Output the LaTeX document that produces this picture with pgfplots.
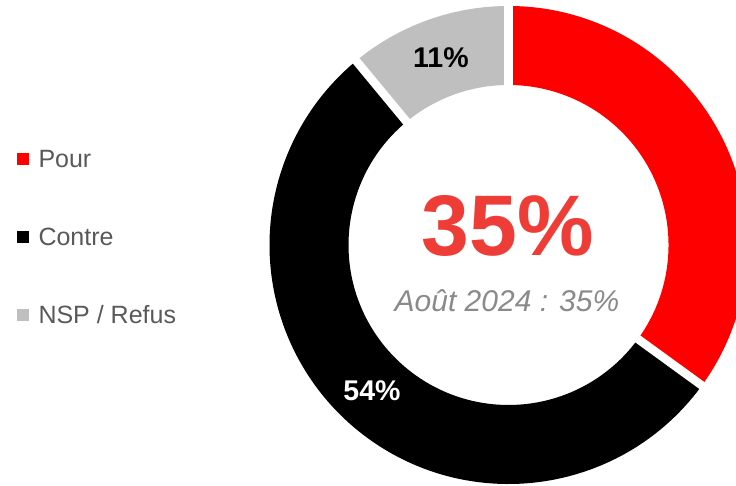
\documentclass[border=0pt]{standalone}
\usepackage{pgfplots}
\pgfplotsset{compat=1.18}
\usepackage{pgfplotstable}
\usepackage{fontspec}
\setmainfont{Liberation Sans}

\definecolor{cPour}{HTML}{FF0000}
\definecolor{cContre}{HTML}{000000}
\definecolor{cNSP}{HTML}{BFBFBF}
\definecolor{bigred}{HTML}{EE3D37}
\definecolor{subgrey}{HTML}{8A8A8A}
\definecolor{legtext}{HTML}{595959}

% share in %, slice colour, label colour, label shown on the ring
\pgfplotstableread[col sep=comma]{
label,value,fill,labc,show
Pour,35,cPour,white,0
Contre,54,cContre,white,1
NSP / Refus,11,cNSP,black,1
}\shares

\begin{document}
\begin{tikzpicture}[x=1pt,y=1pt]
\useasboundingbox (0,0) rectangle (736,485);
\begin{axis}[x=1pt, y=1pt, xmin=0, xmax=736, ymin=0, ymax=485,
  hide axis, at={(0,0)}, anchor=south west]
\def\cx{508.5}\def\cy{240}\def\Ro{239}\def\Ri{160}
% ring slices, clockwise from 12 o'clock
\def\cum{0}
\pgfplotsforeachungrouped \i in {0,1,2}{%
  \pgfplotstablegetelem{\i}{value}\of\shares\let\val\pgfplotsretval
  \pgfplotstablegetelem{\i}{fill}\of\shares\let\fc\pgfplotsretval
  \pgfmathsetmacro\angA{90-3.6*\cum}
  \pgfmathsetmacro\angB{90-3.6*(\cum+\val)}
  \pgfmathsetmacro\sx{\cx+\Ro*cos(\angA)}
  \pgfmathsetmacro\sy{\cy+\Ro*sin(\angA)}
  \pgfmathsetmacro\dr{\Ri-\Ro}
  \edef\cmd{\noexpand\fill[\fc] (axis cs:\sx,\sy) arc[start angle=\angA, end angle=\angB, radius=\Ro pt]
    -- ++(\angB:\dr pt) arc[start angle=\angB, end angle=\angA, radius=\Ri pt] -- cycle;}
  \cmd
  \pgfmathsetmacro\cum{\cum+\val}
}
% white gaps and labels
\def\cum{0}
\pgfplotsforeachungrouped \i in {0,1,2}{%
  \pgfplotstablegetelem{\i}{value}\of\shares\let\val\pgfplotsretval
  \pgfplotstablegetelem{\i}{labc}\of\shares\let\lc\pgfplotsretval
  \pgfplotstablegetelem{\i}{show}\of\shares\let\shw\pgfplotsretval
  \pgfplotstablegetelem{\i}{label}\of\shares\let\lab\pgfplotsretval
  \pgfplotstablegetelem{\i}{fill}\of\shares\let\fc\pgfplotsretval
  \pgfmathsetmacro\angA{90-3.6*\cum}
  \pgfmathsetmacro\angM{90-3.6*(\cum+\val/2)}
  \pgfmathsetmacro\gx{\cx+250*cos(\angA)}
  \pgfmathsetmacro\gy{\cy+250*sin(\angA)}
  \pgfmathsetmacro\lx{\cx+0.5*(\Ro+\Ri)*cos(\angM)}
  \pgfmathsetmacro\ly{\cy+0.5*(\Ro+\Ri)*sin(\angM)}
  \pgfmathsetmacro\ky{326-78*\i}
  \pgfmathsetmacro\kyb{\ky-8.3}
  \edef\cmd{\noexpand\draw[white, line width=8.5pt] (axis cs:\cx,\cy) -- (axis cs:\gx,\gy);
    \noexpand\fill[\fc] (axis cs:17.3,\ky) ++(0,-6) rectangle ++(12,12);
    \noexpand\node[anchor=base west, inner sep=0pt, text=legtext, font=\noexpand\fontsize{25}{30}\noexpand\selectfont]
      at (axis cs:38.3,\kyb) {\lab};}
  \cmd
  \ifnum\shw=1
    \edef\cmd{\noexpand\node[text=\lc, font=\noexpand\fontsize{28.5}{32}\noexpand\selectfont\noexpand\bfseries]
      at (axis cs:\lx,\ly) {\val\noexpand\%};}
    \cmd
  \fi
  \pgfmathsetmacro\cum{\cum+\val}
}
\pgfplotstablegetelem{0}{value}\of\shares\let\pour\pgfplotsretval
\edef\cmd{\noexpand\node[anchor=base, inner sep=0pt, text=bigred, font=\noexpand\fontsize{86}{90}\noexpand\selectfont\noexpand\bfseries]
  at (axis cs:507.7,229) {\pour\noexpand\%};}
\cmd
\node[anchor=base, inner sep=0pt, text=subgrey, font=\fontsize{30}{34}\selectfont\itshape]
  at (axis cs:507,173.5) {Août 2024 : 35\%};
\end{axis}
\end{tikzpicture}
\end{document}
